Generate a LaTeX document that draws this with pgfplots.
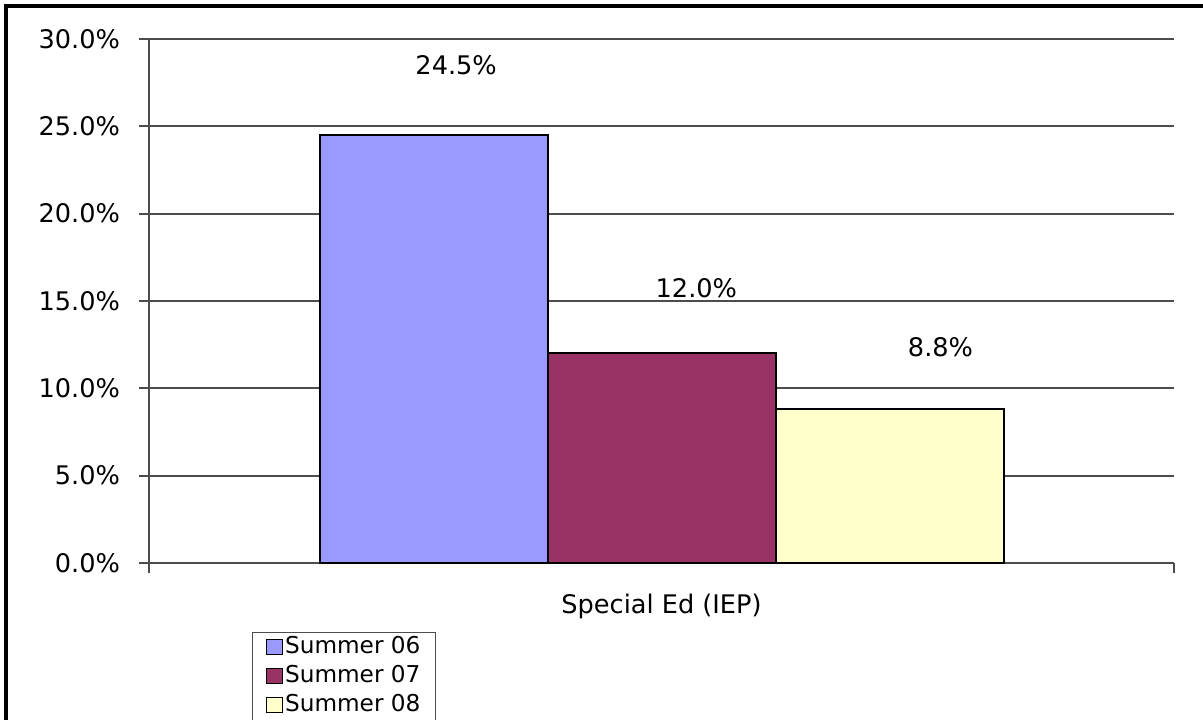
\documentclass[border=0pt]{standalone}
\usepackage{pgfplots}
\pgfplotsset{compat=1.18}
\usepackage{fontspec}
\setmainfont{DejaVu Sans}
\definecolor{cA}{HTML}{9999FF}
\definecolor{cB}{HTML}{993366}
\definecolor{cC}{HTML}{FFFFCC}
\begin{document}
\begin{tikzpicture}[x=1pt,y=1pt]
\path[use as bounding box] (-74.5,-78) rectangle (527,281.5);
\draw[line width=1.6pt] (-71.5,-120) -- (-71.5,278.5) -- (560,278.5);
\begin{axis}[
  at={(0,0)}, anchor=south west,
  scale only axis, width=512.5pt, height=262pt,
  xmin=-1.5, xmax=1.5, ymin=0, ymax=30,
  ybar=0pt, bar width=114pt,
  clip=false,
  axis lines*=left,
  axis line style={black!70, line width=0.9pt, -},
  ytick={0,5,...,30},
  yticklabels={0.0\%,5.0\%,10.0\%,15.0\%,20.0\%,25.0\%,30.0\%},
  xtick={-1.5,1.5}, xticklabels={},
  tick align=outside, major tick length=5pt,
  tick style={black!70, line width=0.9pt},
  ymajorgrids, grid style={black!70, line width=0.9pt},
  ticklabel style={font=\fontsize{12.8}{15}\selectfont},
  yticklabel style={xshift=-6pt},
  legend style={at={(0.1005,-0.1317)}, anchor=north west,
    draw=black!70, line width=0.5pt,
    font=\fontsize{11.6}{13.9}\selectfont,
    inner xsep=6.5pt, inner ysep=1pt, row sep=1.5pt,
    nodes={inner sep=1pt, text height=8.5pt, text depth=2.5pt}},
  legend cell align=left,
  legend image code/.code={\draw[#1, line width=0.8pt] (0pt,-3.4pt) rectangle (8pt,4pt);},
]
\addplot[fill=cA, draw=black, line width=1pt] coordinates {(0,24.5)};
\addplot[fill=cB, draw=black, line width=1pt] coordinates {(0,12.0)};
\addplot[fill=cC, draw=black, line width=1pt] coordinates {(0,8.8)};
\legend{Summer 06,Summer 07,Summer 08}
\node[font=\fontsize{12.8}{15}\selectfont] at (axis cs:-0.601,28.51) {24.5\%};
\node[font=\fontsize{12.8}{15}\selectfont] at (axis cs:0.102,15.72) {12.0\%};
\node[font=\fontsize{12.8}{15}\selectfont] at (axis cs:0.8166,12.34) {8.8\%};
\node[font=\fontsize{12.8}{15}\selectfont] at (axis cs:0,0) [yshift=-21.5pt] {Special Ed (IEP)};
\end{axis}
\end{tikzpicture}
\end{document}
